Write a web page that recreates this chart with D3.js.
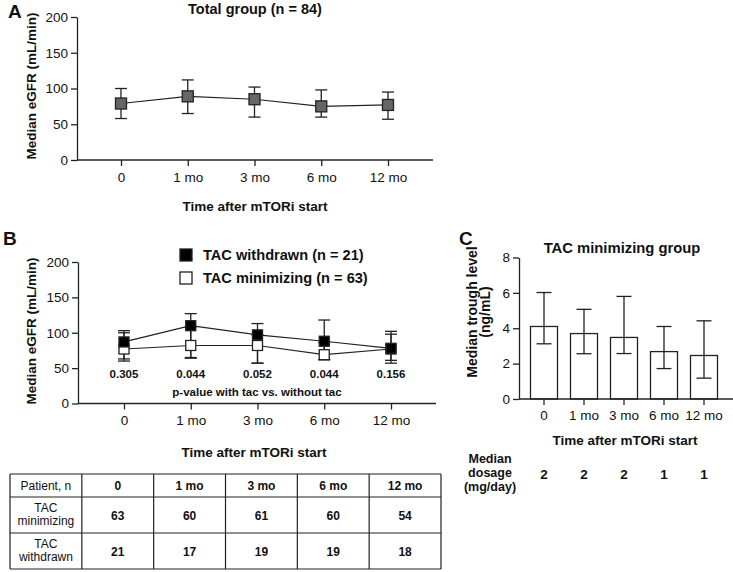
<!DOCTYPE html>
<html><head><meta charset="utf-8">
<script src="https://cdn.jsdelivr.net/npm/d3@7"></script>
<style>body{margin:0;background:#fff}svg{display:block;font-family:"Liberation Sans",Arial,sans-serif}</style>
</head><body>
<svg id="c" width="733" height="572"></svg>
<script>
// ---------- data ----------
const timepoints = ["0", "1 mo", "3 mo", "6 mo", "12 mo"];
const eGFRTicks = [0, 50, 100, 150, 200];
// Panel A: total group
const totalMedian = [79, 89, 85, 75, 77];
const totalLow    = [58, 65, 60, 60, 57];
const totalHigh   = [100, 112, 102, 98, 95];
// Panel B
const withdrawnMedian = [87, 110, 97, 88, 78];
const withdrawnLow    = [60, 65, 57, 62, 61];
const withdrawnHigh   = [103, 127, 113, 118, 102];
const minimizingMedian = [77, 82, 82, 69, 77];
const minimizingLow    = [63, 64, 57, 62, 57];
const minimizingHigh   = [100, 108, 97, 86, 98];
const pValues = ["0.305", "0.044", "0.052", "0.044", "0.156"];
// Table
const tableHeader = ["Patient, n", "0", "1 mo", "3 mo", "6 mo", "12 mo"];
const tableRowLabels = [["TAC", "minimizing"], ["TAC", "withdrawn"]];
const tableMinimizing = [63, 60, 61, 60, 54];
const tableWithdrawn = [21, 17, 19, 19, 18];
// Panel C
const troughMedian = [4.1, 3.7, 3.48, 2.68, 2.46];
const troughLow    = [3.12, 2.56, 2.57, 1.72, 1.18];
const troughHigh   = [6.02, 5.07, 5.8, 4.1, 4.42];
const troughTicks = [0, 2, 4, 6, 8];
const medianDosage = [2, 2, 2, 1, 1];
const dosageLabel = ["Median", "dosage", "(mg/day)"];

// ---------- drawing ----------
const svg = d3.select("#c");
const INK = "#222";

function txt(x, y, s, opt = {}) {
  return svg.append("text").attr("x", x).attr("y", y).text(s)
    .attr("font-size", opt.size || 13.5)
    .attr("font-weight", opt.bold ? "bold" : "normal")
    .attr("text-anchor", opt.anchor || "middle")
    .attr("fill", "#111")
    .attr("transform", opt.rot ? `rotate(-90,${x},${y})` : null);
}

function styleAxis(g) {
  g.selectAll("path,line").attr("stroke", INK).attr("stroke-width", 1.3);
  g.selectAll("text").attr("font-size", 13.5).attr("fill", "#111")
    .attr("font-family", '"Liberation Sans",Arial,sans-serif');
}

function drawAxes(x, y, yTicks, axisX0, axisX1, tickPad) {
  const gy = svg.append("g").attr("transform", `translate(${axisX0},0)`)
    .call(d3.axisLeft(y).tickValues(yTicks).tickSize(6).tickSizeOuter(0).tickPadding(3));
  styleAxis(gy);
  const y0 = y(yTicks[0]);
  const gx = svg.append("g").attr("transform", `translate(0,${y0})`)
    .call(d3.axisBottom(x).tickSize(6).tickSizeOuter(0).tickPadding(tickPad));
  gx.select(".domain").remove();
  styleAxis(gx);
  svg.append("line").attr("x1", axisX0).attr("x2", axisX1).attr("y1", y0).attr("y2", y0)
    .attr("stroke", INK).attr("stroke-width", 1.3);
}

function errorBars(x, y, low, high, cap) {
  const g = svg.append("g").attr("stroke", INK).attr("stroke-width", 1.3);
  timepoints.forEach((t, i) => {
    const cx = x(t);
    g.append("line").attr("x1", cx).attr("x2", cx).attr("y1", y(low[i])).attr("y2", y(high[i]));
    [low[i], high[i]].forEach(v => g.append("line")
      .attr("x1", cx - cap / 2).attr("x2", cx + cap / 2).attr("y1", y(v)).attr("y2", y(v)));
  });
}

function series(x, y, med) {
  svg.append("path").datum(med)
    .attr("d", d3.line().x((d, i) => x(timepoints[i])).y(d => y(d)))
    .attr("fill", "none").attr("stroke", INK).attr("stroke-width", 1.2);
}
function markers(x, y, med, fill, size) {
  svg.append("g").selectAll("rect").data(med).join("rect")
    .attr("x", (d, i) => x(timepoints[i]) - size / 2).attr("y", d => y(d) - size / 2)
    .attr("width", size).attr("height", size)
    .attr("fill", fill).attr("stroke", INK).attr("stroke-width", 1.3);
}

// ----- Panel A -----
const xA = d3.scalePoint().domain(timepoints).range([121, 388]);
const yA = d3.scaleLinear().domain([0, 200]).range([160, 17]);
drawAxes(xA, yA, eGFRTicks, 77, 433, 6);
errorBars(xA, yA, totalLow, totalHigh, 12);
series(xA, yA, totalMedian);
markers(xA, yA, totalMedian, "#666", 11);
txt(8, 18, "A", { size: 19, bold: true, anchor: "start" });
txt(255, 14, "Total group (n = 84)", { size: 14.5, bold: true });
txt(36, 86, "Median eGFR (mL/min)", { size: 13.5, bold: true, rot: true });
txt(255, 211, "Time after mTORi start", { size: 13.5, bold: true });

// ----- Panel B -----
const xB = d3.scalePoint().domain(timepoints).range([124, 391]);
const yB = d3.scaleLinear().domain([0, 200]).range([403.5, 262]);
drawAxes(xB, yB, eGFRTicks, 78, 436, 6);
errorBars(xB, yB, minimizingLow, minimizingHigh, 12);
errorBars(xB, yB, withdrawnLow, withdrawnHigh, 12);
series(xB, yB, minimizingMedian);
series(xB, yB, withdrawnMedian);
markers(xB, yB, minimizingMedian, "#fff", 10);
markers(xB, yB, withdrawnMedian, "#000", 10);
svg.append("g").selectAll("text").data(pValues).join("text")
  .attr("x", (d, i) => xB(timepoints[i])).attr("y", 378).text(d => d)
  .attr("font-size", 11.5).attr("font-weight", "bold").attr("text-anchor", "middle").attr("fill", "#111");
txt(257, 396, "p-value with tac vs. without tac", { size: 11.5, bold: true });
txt(3, 245, "B", { size: 19, bold: true, anchor: "start" });
txt(36, 331, "Median eGFR (mL/min)", { size: 13.5, bold: true, rot: true });
txt(254, 457, "Time after mTORi start", { size: 13.5, bold: true });
// legend
const legend = [{ label: "TAC withdrawn (n = 21)", fill: "#000", y: 255 },
                { label: "TAC minimizing (n = 63)", fill: "#fff", y: 278 }];
legend.forEach(l => {
  svg.append("rect").attr("x", 180).attr("y", l.y - 6).attr("width", 12).attr("height", 12)
    .attr("fill", l.fill).attr("stroke", INK).attr("stroke-width", 1.3);
  txt(203, l.y + 5, l.label, { size: 14.6, bold: true, anchor: "start" });
});

// ----- Table -----
const colX = d3.scaleBand().domain(d3.range(tableHeader.length)).range([10, 441]);
const rowY = [474, 497, 533, 569];
const tg = svg.append("g").attr("stroke", INK).attr("stroke-width", 1.2);
rowY.forEach(y => tg.append("line").attr("x1", 10).attr("x2", 441).attr("y1", y).attr("y2", y));
d3.range(tableHeader.length + 1).forEach(i => {
  const x = i < tableHeader.length ? colX(i) : 441;
  tg.append("line").attr("x1", x).attr("x2", x).attr("y1", rowY[0]).attr("y2", rowY[3]);
});
tableHeader.forEach((h, i) => txt(colX(i) + colX.bandwidth() / 2, 490, h, { size: 12, bold: i > 0 }));
[tableMinimizing, tableWithdrawn].forEach((row, r) => {
  const yc = (rowY[r + 1] + rowY[r + 2]) / 2;
  txt(colX(0) + colX.bandwidth() / 2, yc - 3, tableRowLabels[r][0], { size: 12 });
  txt(colX(0) + colX.bandwidth() / 2, yc + 10, tableRowLabels[r][1], { size: 12 });
  row.forEach((v, i) => txt(colX(i + 1) + colX.bandwidth() / 2, yc + 4.5, v, { size: 12, bold: true }));
});

// ----- Panel C -----
const xC = d3.scaleBand().domain(timepoints).range([524, 724]).paddingInner(0.325).paddingOuter(0.1625);
const yC = d3.scaleLinear().domain([0, 8]).range([399, 257.5]);
const xCc = t => xC(t) + xC.bandwidth() / 2;
svg.append("g").selectAll("rect").data(troughMedian).join("rect")
  .attr("x", (d, i) => xC(timepoints[i])).attr("y", d => yC(d))
  .attr("width", xC.bandwidth()).attr("height", d => yC(0) - yC(d))
  .attr("fill", "#fff").attr("stroke", INK).attr("stroke-width", 1.3);
errorBars(xCc, yC, troughLow, troughHigh, 15);
const gyC = svg.append("g").attr("transform", "translate(519,0)")
  .call(d3.axisLeft(yC).tickValues(troughTicks).tickSize(6).tickSizeOuter(0).tickPadding(3));
styleAxis(gyC);
const gxC = svg.append("g").attr("transform", `translate(0,${yC(0)})`)
  .call(d3.axisBottom(xC).tickSize(6).tickSizeOuter(0).tickPadding(5));
gxC.select(".domain").remove();
styleAxis(gxC);
svg.append("line").attr("x1", 519).attr("x2", 733).attr("y1", yC(0)).attr("y2", yC(0))
  .attr("stroke", INK).attr("stroke-width", 1.3);
txt(459, 245, "C", { size: 19, bold: true, anchor: "start" });
txt(622, 253, "TAC minimizing group", { size: 14.8, bold: true });
txt(477, 312, "Median trough level", { size: 14, bold: true, rot: true });
txt(490, 312, "(ng/mL)", { size: 14, bold: true, rot: true });
txt(625, 445, "Time after mTORi start", { size: 13.5, bold: true });
dosageLabel.forEach((s, i) => txt(490, 463 + i * 14, s, { size: 12.5, bold: true }));
svg.append("g").selectAll("text").data(medianDosage).join("text")
  .attr("x", (d, i) => xCc(timepoints[i])).attr("y", 479).text(d => d)
  .attr("font-size", 13.5).attr("font-weight", "bold").attr("text-anchor", "middle").attr("fill", "#111");
</script>
</body></html>
